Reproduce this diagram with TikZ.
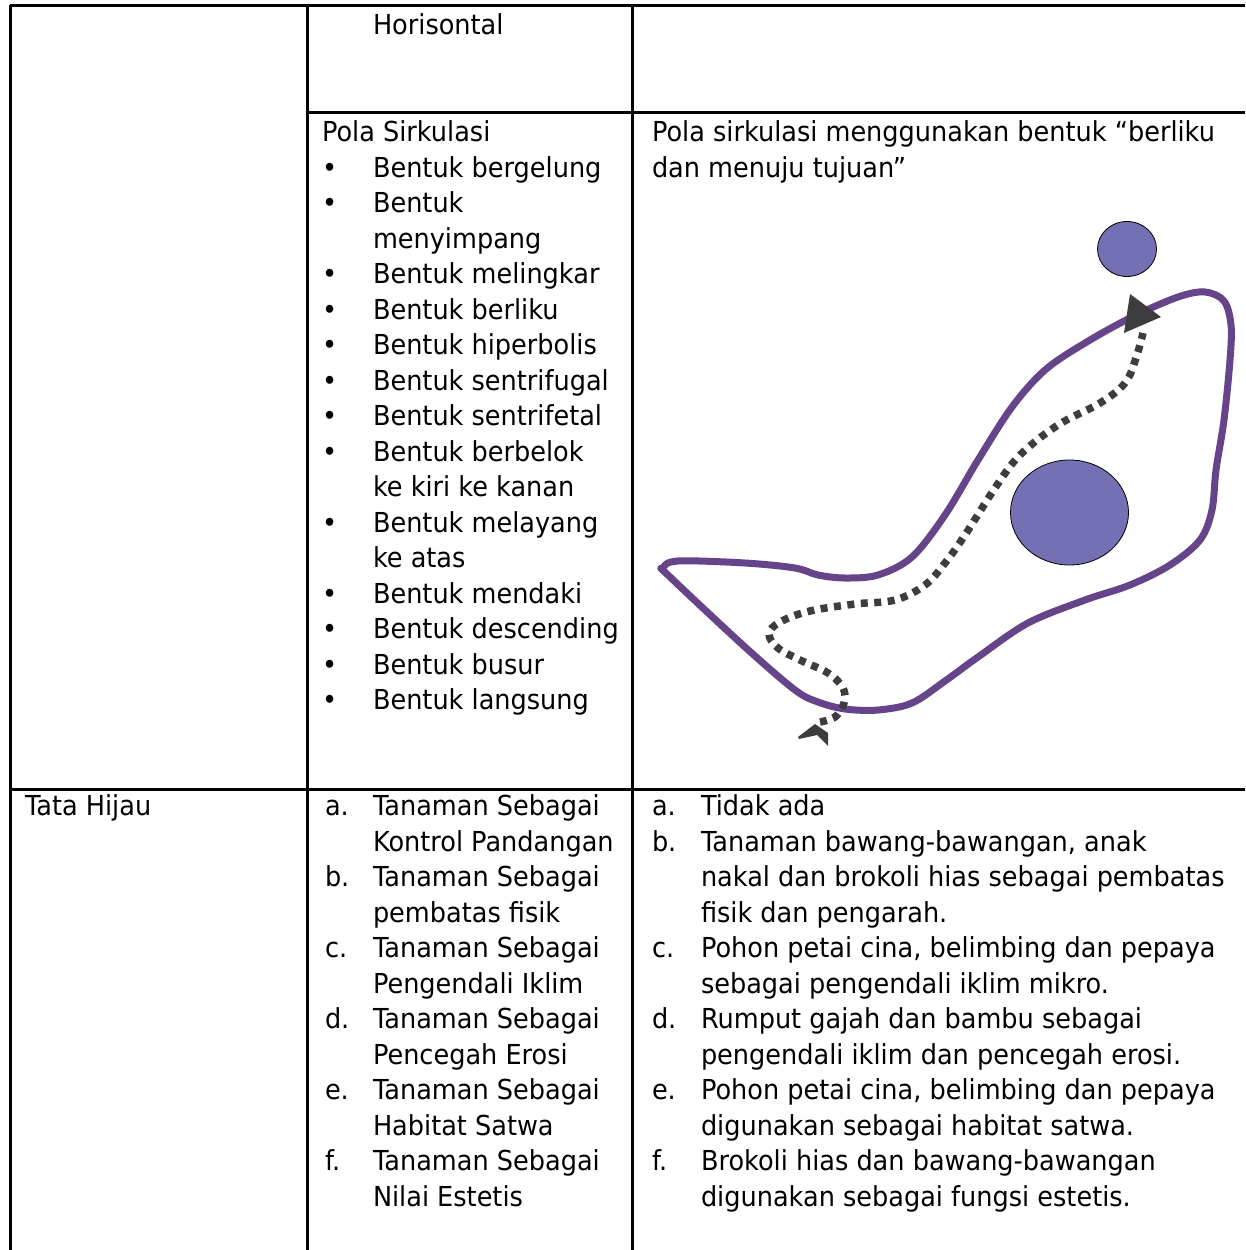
\documentclass[tikz,border=0pt]{standalone}
\usepackage{fontspec}
\usetikzlibrary{shapes.geometric}
\setmainfont[FakeStretch=0.93]{DejaVu Sans}
\definecolor{purp}{RGB}{102,68,138}
\definecolor{circ}{RGB}{117,112,179}
\definecolor{dotc}{RGB}{61,61,63}
\begin{document}
\begin{tikzpicture}[x=1pt,y=-1pt,
  rule/.style={line width=3pt},
  txt/.style={anchor=base west,inner sep=0pt,outer sep=0pt,font=\fontsize{27.5}{35.5}\selectfont,align=left},
  loop/.style={draw=purp,line width=7pt,line join=round},
  walk/.style={draw=dotc,line width=7.5pt,dash pattern=on 7pt off 6.5pt},
  disc/.style={fill=circ,draw=black,line width=0.8pt}]
\useasboundingbox (0,0) rectangle (1245,1250);
% table rules
\coordinate (tl) at (10,5);
\coordinate (tr) at (1245,5);
\coordinate (bl) at (10,1250);
\coordinate (c2t) at (307,5);
\coordinate (c2b) at (307,1250);
\coordinate (c3t) at (632,5);
\coordinate (c3b) at (632,1250);
\coordinate (h1l) at (307,112);
\coordinate (h1r) at (1245,112);
\coordinate (h2l) at (10,789);
\coordinate (h2r) at (1245,789);
\draw[rule] (tl) -- (tr);
\draw[rule] (tl) -- (bl);
\draw[rule] (c2t) -- (c2b);
\draw[rule] (c3t) -- (c3b);
\draw[rule] (h1l) -- (h1r);
\draw[rule] (h2l) -- (h2r);
% row 1
\node[txt] (hor) at (373,34) {Horisontal};
% row 2 col 2 (multi-line nodes are placed by their last baseline)
\node[txt] (pola) at (322,141.5) {Pola Sirkulasi};
\node[txt] (bul) at (322,709.5) {•\\•\\\mbox{}\\•\\•\\•\\•\\•\\•\\\mbox{}\\•\\\mbox{}\\•\\•\\•\\•};
\node[txt] (bentuk) at (373,709.5) {Bentuk bergelung\\Bentuk\\menyimpang\\Bentuk melingkar\\Bentuk berliku\\Bentuk hiperbolis\\Bentuk sentrifugal\\Bentuk sentrifetal\\Bentuk berbelok\\ke kiri ke kanan\\Bentuk melayang\\ke atas\\Bentuk mendaki\\Bentuk descending\\Bentuk busur\\Bentuk langsung};
% row 2 col 3
\node[txt] (desc) at (652,177) {Pola sirkulasi menggunakan bentuk “berliku\\dan menuju tujuan”};
% drawing
\draw[loop] plot[smooth cycle,tension=0.55] coordinates {
 (663,568) (678,561) (745,563) (795,568) (818,575) (845,578) (878,575)
 (912,557) (945,515) (978,460) (1012,407) (1045,370) (1085,343) (1132,317)
 (1178,297) (1205,292) (1224,301) (1231,325) (1230,360) (1224,420) (1216,470)
 (1212,510) (1200,540) (1170,565) (1130,585) (1085,600) (1028,623) (978,657)
 (945,681) (912,703) (878,710) (845,709) (818,702) (795,690) (745,647) (669,576)};
\node[disc,ellipse,minimum width=59pt,minimum height=55pt,inner sep=0pt] (small) at (1127,249) {};
\node[disc,ellipse,minimum width=118pt,minimum height=105pt,inner sep=0pt] (big) at (1069.5,512.5) {};
\draw[walk] plot[smooth,tension=0.6] coordinates {
 (820,722) (835,717) (844,703) (843,688) (828,673) (800,660) (778,648) (769,634)
 (780,622) (810,611) (855,604) (895,600) (925,585) (945,563) (965,535)
 (995,488) (1020,455) (1058,425) (1100,403) (1125,383) (1136,358) (1143,333)};
\coordinate (ah1) at (1130,294);
\coordinate (ah2) at (1161,317);
\coordinate (ah3) at (1124,333);
\fill[dotc] (ah1) -- (ah2) -- (ah3) -- cycle;
\coordinate (ch1) at (798,737);
\coordinate (ch2) at (815,724);
\coordinate (ch3) at (828,733);
\coordinate (ch4) at (828,746);
\coordinate (ch5) at (817,735);
\coordinate (ch6) at (799,739);
\fill[dotc] (ch1) -- (ch2) -- (ch3) -- (ch4) -- (ch5) -- (ch6) -- cycle;
% row 3
\node[txt] (tata) at (25,815.5) {Tata Hijau};
\node[txt] (lab2) at (325,1170.5) {a.\\\mbox{}\\b.\\\mbox{}\\c.\\\mbox{}\\d.\\\mbox{}\\e.\\\mbox{}\\f.};
\node[txt] (fun2) at (373,1206) {Tanaman Sebagai\\Kontrol Pandangan\\Tanaman Sebagai\\pembatas fisik\\Tanaman Sebagai\\Pengendali Iklim\\Tanaman Sebagai\\Pencegah Erosi\\Tanaman Sebagai\\Habitat Satwa\\Tanaman Sebagai\\Nilai Estetis};
\node[txt] (lab3) at (652,1170.5) {a.\\b.\\\mbox{}\\\mbox{}\\c.\\\mbox{}\\d.\\\mbox{}\\e.\\\mbox{}\\f.};
\node[txt] (fun3) at (701,1206) {Tidak ada\\Tanaman bawang-bawangan, anak\\nakal dan brokoli hias sebagai pembatas\\fisik dan pengarah.\\Pohon petai cina, belimbing dan pepaya\\sebagai pengendali iklim mikro.\\Rumput gajah dan bambu sebagai\\pengendali iklim dan pencegah erosi.\\Pohon petai cina, belimbing dan pepaya\\digunakan sebagai habitat satwa.\\Brokoli hias dan bawang-bawangan\\digunakan sebagai fungsi estetis.};
\end{tikzpicture}
\end{document}
